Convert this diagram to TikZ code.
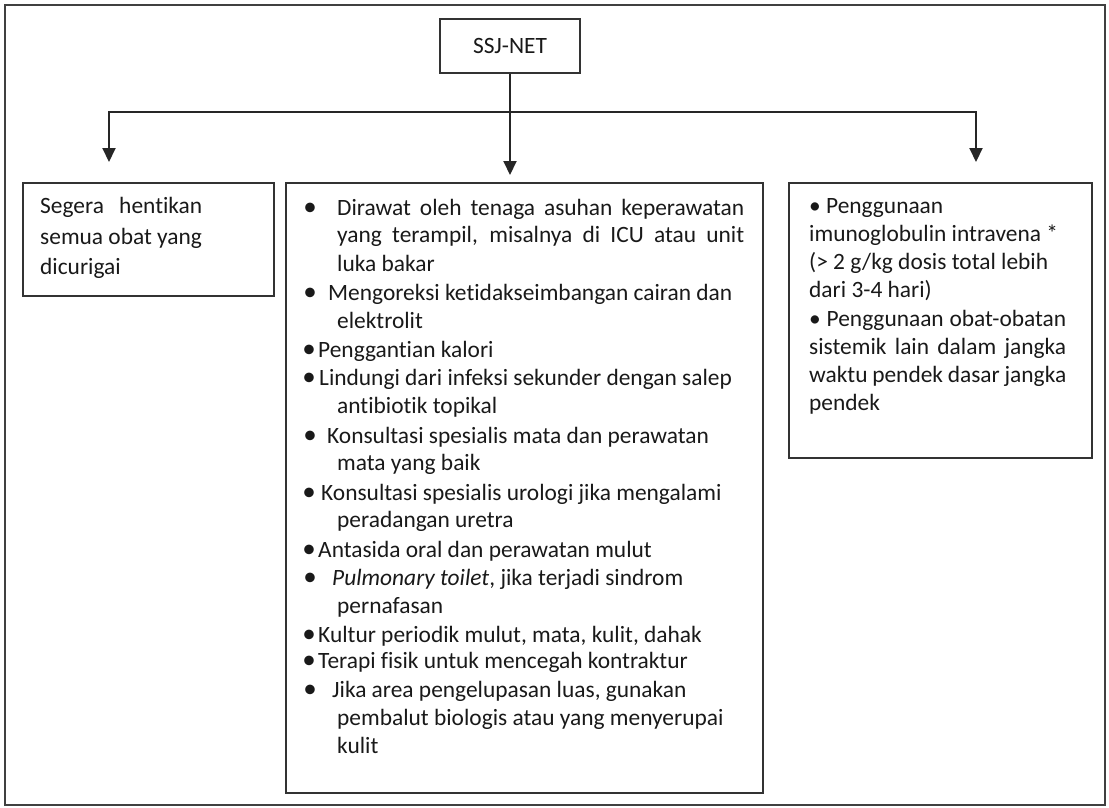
\documentclass[tikz,border=0pt]{standalone}
\usepackage{fontspec}
\setmainfont{Carlito}[Ligatures={NoCommon}]
\usetikzlibrary{arrows.meta,positioning}
\tikzset{
  box/.style={draw=black!80,line width=1.8pt,inner sep=0pt,text=black!90},
  txt/.style={anchor=base west,inner sep=0pt,text=black!90},
  dot/.style={anchor=base,inner sep=0pt,text=black!90,font=\fontsize{27}{28}\selectfont},
  arr/.style={line width=2pt,draw=black!85,-{Triangle[length=14pt,width=13pt]}},
}
\begin{document}
\begin{tikzpicture}[x=1pt,y=-1pt,every node/.style={font=\fontsize{23.4}{28}\selectfont}]
\useasboundingbox (0,0) rectangle (1109,807);
% outer frame
\draw[black!75,line width=1.6pt] (5,5) rectangle (1105,805);
% top box and branches
\node[box,minimum width=140pt,minimum height=54pt] (ssj) at (510,46) {SSJ-NET};
\coordinate (jl) at (109,112);
\coordinate (jr) at (976,112);
\coordinate (tl) at (109,162);
\coordinate (tm) at (510,175);
\coordinate (tr) at (976,162);
\draw[line width=2pt,black!85,line cap=rect] (jl) -- (jr);
\draw[arr] (ssj) -- (tm);
\draw[arr] (jl) -- (tl);
\draw[arr] (jr) -- (tr);
% the three boxes
\node[box,minimum width=251pt,minimum height=113pt] (stop) at (148.5,239.5) {};
\node[box,minimum width=477pt,minimum height=610pt] (care) at (524.5,488) {};
\node[box,minimum width=303pt,minimum height=275pt] (drug) at (940.5,320.5) {};
% left box
\node[txt] (s1) at (40,213) {\makebox[162pt][s]{Segera hentikan}};
\node[txt] (s2) at (40,244) {semua obat yang};
\node[txt] (s3) at (40,274) {dicurigai};
% middle box
\foreach \y/\x [count=\i] in {215/310,300/310,357/309,385/309,443/310,500/309,557/309,585/310,642/309,668/309,697/310}
  \node[dot] (cd\i) at (\x,\y) {•};
\foreach \y/\x/\t [count=\i] in {
  215/337/{\makebox[407pt][s]{Dirawat oleh tenaga asuhan keperawatan}},
  242/337/{\makebox[407pt][s]{yang terampil, misalnya di ICU atau unit}},
  271/337/{luka bakar},
  300/328/{Mengoreksi ketidakseimbangan cairan dan},
  328/337/{elektrolit},
  357/318/{Penggantian kalori},
  385/319/{Lindungi dari infeksi sekunder dengan salep},
  413/337/{antibiotik topikal},
  443/327/{Konsultasi spesialis mata dan perawatan},
  470/337/{mata yang baik},
  500/321/{Konsultasi spesialis urologi jika mengalami},
  527/337/{peradangan uretra},
  557/318/{Antasida oral dan perawatan mulut},
  585/332/{\textit{Pulmonary toilet}, jika terjadi sindrom},
  613/337/{pernafasan},
  642/318/{Kultur periodik mulut, mata, kulit, dahak},
  668/318/{Terapi fisik untuk mencegah kontraktur},
  697/332/{Jika area pengelupasan luas, gunakan},
  725/337/{pembalut biologis atau yang menyerupai},
  753/337/{kulit}}
  \node[txt] (c\i) at (\x,\y) {\t};
% right box
\node[txt] (d1) at (809,213) {• Penggunaan};
\node[txt] (d2) at (809,241) {imunoglobulin intravena *};
\node[txt] (d3) at (809,269) {(> 2 g/kg dosis total lebih};
\node[txt] (d4) at (809,297) {dari 3-4 hari)};
\node[txt] (d5) at (809,326) {\makebox[257pt][s]{• Penggunaan obat-obatan}};
\node[txt] (d6) at (809,354) {\makebox[257pt][s]{sistemik lain dalam jangka}};
\node[txt] (d7) at (809,382) {\makebox[257pt][s]{waktu pendek dasar jangka}};
\node[txt] (d8) at (809,410) {pendek};
\end{tikzpicture}
\end{document}
